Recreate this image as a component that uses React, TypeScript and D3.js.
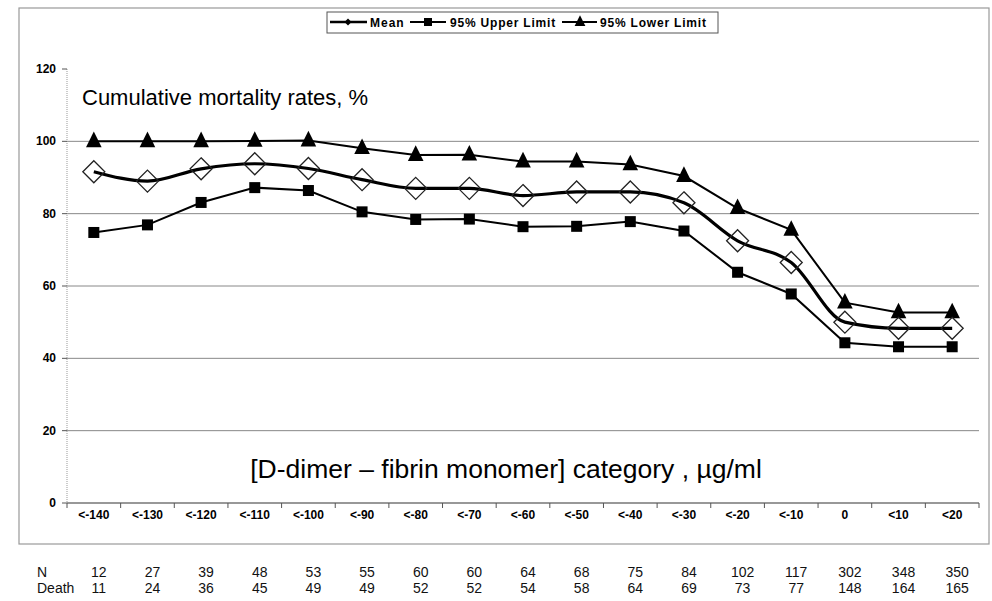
import React from "react";
import * as d3 from "d3";

const categories = ["<-140", "<-130", "<-120", "<-110", "<-100", "<-90", "<-80", "<-70", "<-60", "<-50", "<-40", "<-30", "<-20", "<-10", "0", "<10", "<20"];
const meanValues = [91.6, 89.0, 92.4, 93.8, 92.5, 89.4, 87.0, 87.0, 85.0, 86.0, 86.0, 83.0, 72.5, 66.5, 50.0, 48.3, 48.3];
const upperValues = [74.8, 76.9, 83.1, 87.2, 86.4, 80.5, 78.4, 78.5, 76.4, 76.5, 77.8, 75.2, 63.8, 57.8, 44.3, 43.2, 43.2];
const lowerValues = [100.0, 100.0, 100.0, 100.1, 100.2, 98.1, 96.2, 96.3, 94.4, 94.4, 93.6, 90.4, 81.5, 75.5, 55.4, 52.7, 52.7];
const nValues = [12, 27, 39, 48, 53, 55, 60, 60, 64, 68, 75, 84, 102, 117, 302, 348, 350];
const deathValues = [11, 24, 36, 45, 49, 49, 52, 52, 54, 58, 64, 69, 73, 77, 148, 164, 165];
const yTicks = [0, 20, 40, 60, 80, 100, 120];
const gridValues = [20, 40, 60, 80, 100];

const W = 992;
const H = 601;
const plot = { left: 67, right: 979, top: 69, bottom: 503 };
const FONT = "'Liberation Sans', Arial, sans-serif";

export default function App() {
  const x = d3.scaleBand<string>().domain(categories).range([plot.left, plot.right]).padding(0);
  const y = d3.scaleLinear().domain([0, 120]).range([plot.bottom, plot.top]);
  const cx = (i: number) => (x(categories[i]) as number) + x.bandwidth() / 2;

  const line = d3
    .line<number>()
    .x((_, i) => cx(i))
    .y((d) => y(d));
  const smooth = d3
    .line<number>()
    .x((_, i) => cx(i))
    .y((d) => y(d))
    .curve(d3.curveMonotoneX);

  const diamond = (px: number, py: number, r: number) =>
    `M${px},${py - r}L${px + r},${py}L${px},${py + r}L${px - r},${py}Z`;
  const tri = (px: number, py: number, s: number) =>
    `M${px},${py - s * 0.75}L${px + s * 0.6},${py + s * 0.45}L${px - s * 0.6},${py + s * 0.45}Z`;

  const boundaries = d3.range(categories.length + 1).map((i) =>
    i < categories.length ? (x(categories[i]) as number) : plot.right
  );

  const legY = 22;
  return (
    <svg width={W} height={H} style={{ display: "block", position: "absolute", left: 0, top: 0, background: "#fff" }}>
      <rect x={19} y={8} width={970} height={536} fill="none" stroke="#999" strokeWidth={1.2} />
      {/* legend */}
      <rect x={327} y={12} width={391} height={21} fill="#fff" stroke="#555" strokeWidth={1} />
      <g fontFamily={FONT} fontWeight="bold" fontSize={12} fill="#000">
        <line x1={330} x2={367} y1={legY} y2={legY} stroke="#000" strokeWidth={2.5} />
        <path d={diamond(348, legY, 3.5)} fill="#000" />
        <text x={370} y={legY + 4.5} letterSpacing={1}>Mean</text>
        <line x1={410} x2={446} y1={legY} y2={legY} stroke="#000" strokeWidth={2} />
        <rect x={424} y={legY - 4} width={8} height={8} fill="#000" />
        <text x={450} y={legY + 4.5} letterSpacing={0.8}>95% Upper Limit</text>
        <line x1={562} x2={597} y1={legY} y2={legY} stroke="#000" strokeWidth={2} />
        <path d={tri(580, legY, 9)} fill="#000" />
        <text x={600} y={legY + 4.5} letterSpacing={0.8}>95% Lower Limit</text>
      </g>

      {/* grid */}
      {gridValues.map((v) => (
        <line key={v} x1={plot.left} x2={plot.right} y1={y(v)} y2={y(v)} stroke="#888" strokeWidth={1} />
      ))}
      {/* y axis */}
      <line x1={plot.left} x2={plot.left} y1={y(120)} y2={plot.bottom} stroke="#999" strokeWidth={1} strokeDasharray="1,1" />
      {yTicks.map((v) => (
        <g key={v}>
          <line x1={plot.left - 5} x2={plot.left} y1={y(v)} y2={y(v)} stroke="#555" />
          <text x={56} y={y(v) + 4} textAnchor="end" fontFamily={FONT} fontWeight="bold" fontSize={12}>
            {v}
          </text>
        </g>
      ))}
      {/* x axis */}
      <line x1={plot.left} x2={plot.right} y1={plot.bottom} y2={plot.bottom} stroke="#333" strokeWidth={1.2} />
      {boundaries.map((bx, i) => (
        <line key={i} x1={bx} x2={bx} y1={plot.bottom} y2={plot.bottom + 5} stroke="#555" />
      ))}
      {categories.map((c, i) => (
        <text key={c} x={cx(i)} y={519} textAnchor="middle" fontFamily={FONT} fontWeight="bold" fontSize={12}>
          {c}
        </text>
      ))}

      {/* texts */}
      <text x={82} y={105} fontFamily={FONT} fontSize={22}>Cumulative mortality rates, %</text>
      <text x={506} y={478} textAnchor="middle" fontFamily={FONT} fontSize={26.5}>
        [D-dimer – fibrin monomer] category , µg/ml
      </text>

      {/* series */}
      <path d={line(lowerValues) || ""} fill="none" stroke="#000" strokeWidth={2} />
      <path d={line(upperValues) || ""} fill="none" stroke="#000" strokeWidth={2} />
      <path d={smooth(meanValues) || ""} fill="none" stroke="#000" strokeWidth={3.2} />
      {lowerValues.map((v, i) => (
        <path key={"l" + i} d={tri(cx(i), y(v), 13)} fill="#000" />
      ))}
      {upperValues.map((v, i) => (
        <rect key={"u" + i} x={cx(i) - 5.5} y={y(v) - 5.5} width={11} height={11} fill="#000" />
      ))}
      {meanValues.map((v, i) => (
        <path key={"m" + i} d={diamond(cx(i), y(v), 11)} fill="none" stroke="#222" strokeWidth={1.3} />
      ))}

      {/* table */}
      <g fontFamily={FONT} fontSize={14} fill="#111">
        <text x={37} y={577}>N</text>
        <text x={37} y={593}>Death</text>
        {nValues.map((v, i) => (
          <text key={"n" + i} x={cx(i) + 5} y={577} textAnchor="middle">{v}</text>
        ))}
        {deathValues.map((v, i) => (
          <text key={"d" + i} x={cx(i) + 5} y={593} textAnchor="middle">{v}</text>
        ))}
      </g>
    </svg>
  );
}
